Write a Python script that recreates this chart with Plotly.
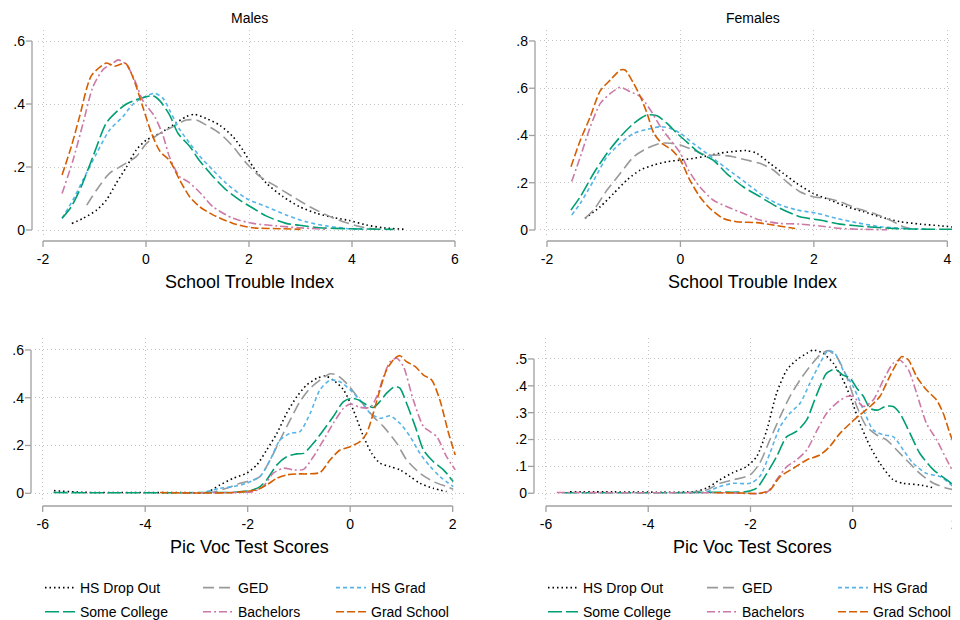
import plotly.graph_objects as go

# ---------------- data ----------------
SERIES = ["HS Drop Out", "GED", "HS Grad", "Some College", "Bachelors", "Grad School"]

# Males, School Trouble Index
males_trouble_x = {
    "HS Drop Out": [-1.44, -1.22, -0.96, -0.77, -0.58, -0.38, -0.19, 0.01, 0.27, 0.52, 0.78, 0.94, 1.17, 1.43, 1.69, 1.88, 2.08, 2.34, 2.66, 2.98, 3.31, 3.63, 3.95, 4.28, 4.60, 5.06],
    "GED": [-1.15, -0.96, -0.71, -0.45, -0.19, 0.01, 0.27, 0.52, 0.78, 0.98, 1.17, 1.43, 1.69, 1.95, 2.21, 2.53, 2.85, 3.18, 3.50, 3.83, 4.15, 4.47],
    "HS Grad": [-1.63, -1.42, -1.22, -0.96, -0.71, -0.45, -0.25, -0.06, 0.17, 0.33, 0.46, 0.65, 0.85, 1.04, 1.30, 1.56, 1.95, 2.34, 2.72, 3.11, 3.50, 3.95, 4.28],
    "Some College": [-1.63, -1.45, -1.26, -1.03, -0.77, -0.54, -0.38, -0.25, -0.06, 0.14, 0.27, 0.46, 0.62, 0.85, 1.04, 1.30, 1.56, 1.82, 2.08, 2.34, 2.72, 2.98, 3.37, 3.95, 4.80],
    "Bachelors": [-1.63, -1.42, -1.22, -1.03, -0.83, -0.64, -0.54, -0.38, -0.22, -0.06, 0.17, 0.33, 0.46, 0.65, 0.82, 1.04, 1.30, 1.69, 2.08, 2.53, 2.98, 3.50],
    "Grad School": [-1.63, -1.45, -1.29, -1.06, -0.77, -0.61, -0.41, -0.35, -0.22, -0.06, 0.10, 0.27, 0.46, 0.65, 0.85, 1.04, 1.30, 1.69, 2.08, 2.66, 3.00],
}
males_trouble_y = {
    "HS Drop Out": [0.021, 0.037, 0.063, 0.095, 0.148, 0.200, 0.254, 0.286, 0.307, 0.333, 0.360, 0.367, 0.354, 0.333, 0.296, 0.254, 0.200, 0.148, 0.106, 0.074, 0.053, 0.040, 0.030, 0.016, 0.007, 0.002],
    "GED": [0.079, 0.127, 0.180, 0.206, 0.233, 0.275, 0.307, 0.328, 0.349, 0.349, 0.333, 0.307, 0.265, 0.212, 0.170, 0.138, 0.106, 0.074, 0.048, 0.026, 0.011, 0.002],
    "HS Grad": [0.037, 0.095, 0.160, 0.243, 0.317, 0.360, 0.400, 0.420, 0.434, 0.418, 0.380, 0.320, 0.275, 0.235, 0.190, 0.148, 0.100, 0.074, 0.048, 0.026, 0.013, 0.004, 0.002],
    "Some College": [0.037, 0.074, 0.137, 0.233, 0.340, 0.380, 0.400, 0.410, 0.420, 0.426, 0.410, 0.365, 0.307, 0.265, 0.220, 0.170, 0.127, 0.095, 0.069, 0.044, 0.021, 0.015, 0.007, 0.004, 0.002],
    "Bachelors": [0.116, 0.220, 0.340, 0.455, 0.510, 0.530, 0.540, 0.525, 0.476, 0.410, 0.360, 0.300, 0.230, 0.170, 0.153, 0.120, 0.074, 0.037, 0.021, 0.013, 0.007, 0.002],
    "Grad School": [0.175, 0.265, 0.360, 0.490, 0.530, 0.520, 0.530, 0.520, 0.470, 0.390, 0.310, 0.250, 0.220, 0.160, 0.105, 0.074, 0.048, 0.021, 0.007, 0.004, 0.002],
}

# Females, School Trouble Index
females_trouble_x = {
    "HS Drop Out": [-1.43, -1.20, -1.00, -0.80, -0.60, -0.40, -0.20, 0.00, 0.19, 0.39, 0.59, 0.79, 0.99, 1.14, 1.34, 1.54, 1.74, 1.99, 2.24, 2.49, 2.74, 2.99, 3.29, 3.59, 3.89, 4.13],
    "GED": [-1.43, -1.30, -1.10, -0.90, -0.70, -0.50, -0.30, -0.15, 0.00, 0.19, 0.39, 0.59, 0.79, 0.99, 1.19, 1.39, 1.59, 1.79, 1.99, 2.19, 2.39, 2.64, 2.89, 3.14, 3.34, 3.44],
    "HS Grad": [-1.63, -1.50, -1.30, -1.10, -0.90, -0.70, -0.50, -0.30, -0.15, 0.00, 0.19, 0.39, 0.59, 0.79, 0.99, 1.19, 1.44, 1.74, 2.04, 2.34, 2.64, 2.99, 3.39, 3.74],
    "Some College": [-1.64, -1.50, -1.30, -1.10, -0.90, -0.70, -0.50, -0.35, -0.20, -0.05, 0.09, 0.29, 0.49, 0.69, 0.94, 1.19, 1.49, 1.79, 2.09, 2.39, 2.79, 3.24, 3.74, 4.18],
    "Bachelors": [-1.63, -1.50, -1.35, -1.20, -1.05, -0.90, -0.75, -0.60, -0.45, -0.30, -0.15, 0.00, 0.12, 0.29, 0.49, 0.69, 0.94, 1.19, 1.49, 1.79, 2.09, 2.39, 2.69, 3.10],
    "Grad School": [-1.64, -1.50, -1.35, -1.20, -1.05, -0.90, -0.83, -0.70, -0.60, -0.50, -0.40, -0.28, -0.13, 0.00, 0.14, 0.29, 0.44, 0.64, 0.84, 1.14, 1.39, 1.72],
}
females_trouble_y = {
    "HS Drop Out": [0.049, 0.099, 0.155, 0.212, 0.254, 0.275, 0.289, 0.296, 0.303, 0.313, 0.325, 0.332, 0.336, 0.325, 0.282, 0.240, 0.198, 0.155, 0.127, 0.099, 0.078, 0.056, 0.035, 0.025, 0.018, 0.011],
    "GED": [0.049, 0.085, 0.169, 0.240, 0.310, 0.346, 0.367, 0.367, 0.360, 0.339, 0.317, 0.317, 0.310, 0.296, 0.282, 0.254, 0.205, 0.162, 0.141, 0.134, 0.120, 0.092, 0.071, 0.042, 0.014, 0.006],
    "HS Grad": [0.063, 0.113, 0.210, 0.310, 0.367, 0.409, 0.426, 0.437, 0.430, 0.409, 0.367, 0.325, 0.282, 0.240, 0.198, 0.155, 0.113, 0.085, 0.071, 0.049, 0.031, 0.014, 0.006, 0.003],
    "Some College": [0.085, 0.141, 0.240, 0.325, 0.395, 0.451, 0.487, 0.483, 0.451, 0.409, 0.374, 0.325, 0.296, 0.240, 0.183, 0.141, 0.092, 0.056, 0.042, 0.025, 0.014, 0.006, 0.003, 0.003],
    "Bachelors": [0.205, 0.310, 0.437, 0.536, 0.578, 0.604, 0.585, 0.564, 0.508, 0.437, 0.381, 0.325, 0.254, 0.183, 0.127, 0.099, 0.071, 0.042, 0.028, 0.025, 0.017, 0.007, 0.003, 0.001],
    "Grad School": [0.268, 0.380, 0.480, 0.590, 0.635, 0.677, 0.677, 0.620, 0.564, 0.494, 0.410, 0.367, 0.339, 0.296, 0.212, 0.141, 0.092, 0.049, 0.035, 0.031, 0.021, 0.006],
}

# Males, Pic Voc Test Scores
males_picvoc_x = {
    "HS Drop Out": [-5.78, -5.21, -4.23, -3.26, -2.80, -2.54, -2.28, -2.02, -1.82, -1.63, -1.43, -1.24, -1.04, -0.85, -0.65, -0.49, -0.33, -0.13, 0.06, 0.26, 0.42, 0.58, 0.78, 0.97, 1.17, 1.36, 1.62, 1.88],
    "GED": [-2.80, -2.67, -2.41, -2.15, -1.89, -1.76, -1.56, -1.37, -1.17, -0.98, -0.78, -0.59, -0.39, -0.26, -0.07, 0.19, 0.45, 0.65, 0.91, 1.10, 1.36, 1.62, 1.88, 2.01],
    "HS Grad": [-2.80, -2.54, -2.28, -2.02, -1.76, -1.56, -1.37, -1.17, -0.98, -0.78, -0.59, -0.39, -0.20, 0.00, 0.19, 0.39, 0.58, 0.78, 0.97, 1.17, 1.36, 1.56, 1.75, 2.01],
    "Some College": [-5.79, -4.50, -3.50, -2.80, -2.28, -1.95, -1.76, -1.63, -1.43, -1.24, -1.04, -0.91, -0.72, -0.52, -0.33, -0.13, 0.03, 0.16, 0.32, 0.45, 0.58, 0.71, 0.87, 0.97, 1.10, 1.27, 1.43, 1.62, 1.82, 2.01],
    "Bachelors": [-3.30, -2.80, -2.28, -1.89, -1.70, -1.50, -1.30, -1.11, -0.91, -0.72, -0.52, -0.33, -0.13, 0.00, 0.19, 0.39, 0.52, 0.65, 0.78, 0.91, 1.04, 1.23, 1.43, 1.56, 1.69, 1.88, 2.05],
    "Grad School": [-3.71, -2.93, -2.28, -1.83, -1.63, -1.43, -1.24, -1.04, -0.85, -0.59, -0.39, -0.20, 0.00, 0.19, 0.32, 0.45, 0.58, 0.71, 0.87, 0.97, 1.10, 1.27, 1.43, 1.59, 1.75, 1.92, 2.05],
}
males_picvoc_y = {
    "HS Drop Out": [0.011, 0.004, 0.003, 0.003, 0.004, 0.035, 0.063, 0.084, 0.119, 0.181, 0.251, 0.335, 0.405, 0.453, 0.481, 0.491, 0.474, 0.433, 0.349, 0.237, 0.167, 0.126, 0.112, 0.098, 0.070, 0.042, 0.021, 0.007],
    "GED": [0.002, 0.005, 0.021, 0.042, 0.056, 0.070, 0.140, 0.223, 0.307, 0.384, 0.440, 0.474, 0.500, 0.495, 0.460, 0.390, 0.321, 0.279, 0.209, 0.140, 0.084, 0.049, 0.028, 0.017],
    "HS Grad": [0.007, 0.021, 0.028, 0.042, 0.070, 0.140, 0.223, 0.251, 0.258, 0.335, 0.433, 0.474, 0.467, 0.433, 0.390, 0.335, 0.314, 0.324, 0.293, 0.237, 0.167, 0.112, 0.070, 0.028],
    "Some College": [0.003, 0.002, 0.002, 0.003, 0.004, 0.011, 0.028, 0.056, 0.119, 0.153, 0.165, 0.167, 0.209, 0.265, 0.321, 0.384, 0.398, 0.391, 0.370, 0.359, 0.384, 0.419, 0.447, 0.440, 0.377, 0.279, 0.181, 0.133, 0.098, 0.049],
    "Bachelors": [0.002, 0.002, 0.003, 0.007, 0.028, 0.084, 0.105, 0.098, 0.100, 0.153, 0.223, 0.293, 0.356, 0.374, 0.360, 0.360, 0.405, 0.488, 0.551, 0.565, 0.530, 0.391, 0.279, 0.258, 0.237, 0.153, 0.098],
    "Grad School": [0.003, 0.001, 0.003, 0.014, 0.035, 0.063, 0.077, 0.081, 0.081, 0.087, 0.140, 0.181, 0.195, 0.216, 0.251, 0.335, 0.433, 0.516, 0.565, 0.576, 0.551, 0.530, 0.495, 0.474, 0.390, 0.251, 0.160],
}

# Females, Pic Voc Test Scores
females_picvoc_x = {
    "HS Drop Out": [-5.53, -4.68, -3.71, -3.12, -2.86, -2.60, -2.34, -2.08, -1.88, -1.68, -1.49, -1.29, -1.10, -0.90, -0.77, -0.58, -0.38, -0.19, -0.05, 0.14, 0.34, 0.53, 0.79, 0.99, 1.31, 1.61],
    "GED": [-3.20, -2.86, -2.60, -2.34, -2.01, -1.82, -1.62, -1.42, -1.23, -1.03, -0.84, -0.64, -0.48, -0.32, -0.12, 0.08, 0.27, 0.47, 0.66, 0.86, 1.05, 1.31, 1.58, 1.84, 2.00],
    "HS Grad": [-2.86, -2.60, -2.34, -2.01, -1.82, -1.62, -1.42, -1.23, -1.03, -0.84, -0.64, -0.48, -0.35, -0.19, 0.01, 0.21, 0.40, 0.60, 0.79, 0.99, 1.18, 1.44, 1.71, 2.00],
    "Some College": [-5.66, -4.50, -3.50, -2.60, -2.08, -1.88, -1.68, -1.49, -1.29, -1.10, -0.90, -0.77, -0.64, -0.51, -0.35, -0.19, -0.05, 0.08, 0.21, 0.34, 0.50, 0.63, 0.79, 0.92, 1.12, 1.31, 1.58, 1.84, 2.00],
    "Bachelors": [-5.79, -4.50, -3.50, -2.50, -1.68, -1.49, -1.29, -1.10, -0.90, -0.71, -0.51, -0.32, -0.12, 0.01, 0.21, 0.40, 0.60, 0.79, 0.92, 1.09, 1.25, 1.44, 1.64, 1.84, 2.03],
    "Grad School": [-2.70, -2.20, -1.82, -1.62, -1.42, -1.16, -0.90, -0.64, -0.45, -0.25, -0.05, 0.14, 0.34, 0.53, 0.69, 0.86, 0.96, 1.09, 1.25, 1.44, 1.64, 1.77, 1.90, 2.07],
}
females_picvoc_y = {
    "HS Drop Out": [0.005, 0.005, 0.004, 0.006, 0.019, 0.050, 0.077, 0.099, 0.136, 0.236, 0.372, 0.459, 0.496, 0.521, 0.533, 0.521, 0.484, 0.422, 0.360, 0.260, 0.174, 0.112, 0.050, 0.037, 0.031, 0.019],
    "GED": [0.002, 0.012, 0.037, 0.050, 0.068, 0.112, 0.199, 0.285, 0.360, 0.422, 0.471, 0.515, 0.531, 0.509, 0.434, 0.323, 0.248, 0.217, 0.199, 0.161, 0.124, 0.074, 0.037, 0.019, 0.012],
    "HS Grad": [0.004, 0.025, 0.037, 0.037, 0.062, 0.149, 0.248, 0.298, 0.335, 0.409, 0.484, 0.531, 0.521, 0.459, 0.397, 0.310, 0.236, 0.217, 0.211, 0.161, 0.112, 0.074, 0.062, 0.019],
    "Some College": [0.002, 0.002, 0.002, 0.004, 0.006, 0.019, 0.074, 0.136, 0.211, 0.230, 0.273, 0.335, 0.397, 0.447, 0.462, 0.440, 0.428, 0.391, 0.360, 0.316, 0.310, 0.323, 0.323, 0.298, 0.223, 0.149, 0.087, 0.050, 0.025],
    "Bachelors": [0.003, 0.002, 0.002, 0.002, 0.004, 0.050, 0.099, 0.124, 0.161, 0.230, 0.298, 0.335, 0.360, 0.360, 0.323, 0.347, 0.422, 0.484, 0.496, 0.459, 0.372, 0.261, 0.199, 0.124, 0.056],
    "Grad School": [0.002, 0.001, 0.000, 0.012, 0.062, 0.093, 0.124, 0.143, 0.174, 0.223, 0.260, 0.292, 0.323, 0.360, 0.422, 0.484, 0.509, 0.496, 0.434, 0.385, 0.347, 0.298, 0.223, 0.143],
}

trouble_xticks_m = [-2, 0, 2, 4, 6]
trouble_xticks_f = [-2, 0, 2, 4]
picvoc_xticks = [-6, -4, -2, 0, 2]
yticks_m_trouble = [0, 0.2, 0.4, 0.6]
yticks_f_trouble = [0, 0.2, 0.4, 0.6, 0.8]
yticks_m_picvoc = [0, 0.2, 0.4, 0.6]
yticks_f_picvoc = [0, 0.1, 0.2, 0.3, 0.4, 0.5]

# ---------------- styles / geometry ----------------
PAGE_W, PAGE_H = 960, 620
OFF = 8  # default page margin around the figure div
W, H = PAGE_W - OFF, PAGE_H - OFF
FONT = "Liberation Sans, Arial, Helvetica, sans-serif"
COLORS = {
    "HS Drop Out": "#000000", "GED": "#999999", "HS Grad": "#56B4E9",
    "Some College": "#009E73", "Bachelors": "#CC79A7", "Grad School": "#D55E00",
}
DASHES = {
    "HS Drop Out": "1.5px,3px", "GED": "11px,5px", "HS Grad": "4px,3px",
    "Some College": "14px,4px", "Bachelors": "8px,3px,2px,3px", "Grad School": "8px,3px",
}
LEGEND_COL = {"HS Drop Out": 0, "Some College": 0, "GED": 1, "Bachelors": 1, "HS Grad": 2, "Grad School": 2}
LEGEND_TEXT_PX = [[80, 238, 371], [583, 742, 873]]
AXIS_GRAY = "#a0a0a0"
GRID = "#c4c4c4"
TICK = 6


def px_x(px):
    return (px - OFF) / W


def px_y(py):
    return 1 - (py - OFF) / H


panels = [
    dict(xs=males_trouble_x, ys=males_trouble_y, title="Males", xtitle="School Trouble Index",
         xdom=(37.85, 465.3), ydom=(30.0, 236.3), xr=[-2.1, 6.2], yr=[-0.02, 0.635],
         xt=trouble_xticks_m, yt=yticks_m_trouble, yline=32, xline=241, cx=249.5, legend_side=0),
    dict(xs=females_trouble_x, ys=females_trouble_y, title="Females", xtitle="School Trouble Index",
         xdom=(540.3, 960.0), ydom=(30.1, 235.9), xr=[-2.1, 4.19], yr=[-0.025, 0.846],
         xt=trouble_xticks_f, yt=yticks_f_trouble, yline=535, xline=241, cx=752.5, legend_side=1),
    dict(xs=males_picvoc_x, ys=males_picvoc_y, title=None, xtitle="Pic Voc Test Scores",
         xdom=(35.0, 465.0), ydom=(338.0, 499.0), xr=[-6.15, 2.24], yr=[-0.024, 0.65],
         xt=picvoc_xticks, yt=yticks_m_picvoc, yline=31, xline=506, cx=249, legend_side=None),
    dict(xs=females_picvoc_x, ys=females_picvoc_y, title=None, xtitle="Pic Voc Test Scores",
         xdom=(538.3, 959.6), ydom=(338.0, 498.9), xr=[-6.15, 2.09], yr=[-0.021, 0.578],
         xt=picvoc_xticks, yt=yticks_f_picvoc, yline=534, xline=506, cx=752, legend_side=None),
]


def ylab(v):
    if v == 0:
        return "0"
    return f"{v:g}".replace("0.", ".")


def xlab(v):
    return f"{v:g}"


fig = go.Figure()
annotations = []
shapes = []
layout = {}
tickfont = dict(size=14, color="#000000", family=FONT)
axline = dict(color=AXIS_GRAY, width=1.3)

for i, p in enumerate(panels):
    k = "" if i == 0 else str(i + 1)
    xa, ya = "x" + k, "y" + k
    for s in SERIES:
        legend_name = None
        show = False
        if p["legend_side"] is not None:
            idx = p["legend_side"] * 3 + LEGEND_COL[s]
            legend_name = "legend" if idx == 0 else f"legend{idx + 1}"
            show = True
        tr = dict(
            x=p["xs"][s], y=p["ys"][s], mode="lines", name=s,
            line=dict(color=COLORS[s], dash=DASHES[s], width=1.6, shape="spline", smoothing=0.7),
            xaxis=xa, yaxis=ya, showlegend=show, hoverinfo="x+y+name",
            legendgroup=f"p{i}_{s}",
        )
        if legend_name:
            tr["legend"] = legend_name
        fig.add_trace(go.Scatter(**tr))

    x0, x1 = p["xdom"]
    ytop, ybot = p["ydom"]
    # data axes: gridlines only
    layout["xaxis" + k] = dict(
        domain=[px_x(x0), px_x(x1)], range=p["xr"], anchor=ya,
        tickvals=p["xt"], showticklabels=False, ticks="",
        showline=False, zeroline=False, showgrid=True, gridcolor=GRID,
        griddash="1px,3px", gridwidth=1, fixedrange=True,
    )
    layout["yaxis" + k] = dict(
        domain=[px_y(ybot), px_y(ytop)], range=p["yr"], anchor=xa,
        tickvals=p["yt"], showticklabels=False, ticks="",
        showline=False, zeroline=False, showgrid=True, gridcolor=GRID,
        griddash="1px,3px", gridwidth=1, fixedrange=True,
    )

    def xpx(v, p=p, x0=x0, x1=x1):
        return x0 + (v - p["xr"][0]) / (p["xr"][1] - p["xr"][0]) * (x1 - x0)

    def ypx(v, p=p, ytop=ytop, ybot=ybot):
        return ybot - (v - p["yr"][0]) / (p["yr"][1] - p["yr"][0]) * (ybot - ytop)

    # detached label axes spanning exactly the tick range
    j = str(i + 5)
    layout["xaxis" + j] = dict(
        domain=[px_x(xpx(p["xt"][0])), px_x(xpx(p["xt"][-1]))], range=[p["xt"][0], p["xt"][-1]],
        anchor="free", position=px_y(p["xline"]), side="bottom",
        tickvals=p["xt"], ticktext=[xlab(v) for v in p["xt"]], ticks="", ticklabelstandoff=8,
        showline=False, showgrid=False, zeroline=False, tickfont=tickfont, fixedrange=True,
    )
    layout["yaxis" + j] = dict(
        domain=[px_y(ypx(p["yt"][0])), px_y(ypx(p["yt"][-1]))], range=[p["yt"][0], p["yt"][-1]],
        anchor="free", position=px_x(p["yline"]), side="left",
        tickvals=p["yt"], ticktext=[ylab(v) for v in p["yt"]], ticks="", ticklabelstandoff=7,
        showline=False, showgrid=False, zeroline=False, tickfont=tickfont, fixedrange=True,
    )
    fig.add_trace(go.Scatter(x=[p["xt"][0]], y=[p["yt"][0]], xaxis="x" + j, yaxis="y" + j,
                             mode="markers", marker=dict(opacity=0, size=1),
                             showlegend=False, hoverinfo="skip"))

    # axis lines and tick marks as paper-referenced shapes
    xl = px_y(p["xline"])
    shapes.append(dict(type="line", xref="paper", yref="paper", layer="above",
                       x0=px_x(xpx(p["xt"][0])), x1=px_x(xpx(p["xt"][-1])), y0=xl, y1=xl, line=axline))
    for t in p["xt"]:
        shapes.append(dict(type="line", xref="paper", yref="paper", layer="above",
                           x0=px_x(xpx(t)), x1=px_x(xpx(t)), y0=xl, y1=px_y(p["xline"] + TICK), line=axline))
    yl = px_x(p["yline"])
    shapes.append(dict(type="line", xref="paper", yref="paper", layer="above",
                       x0=yl, x1=yl, y0=px_y(ypx(p["yt"][0])), y1=px_y(ypx(p["yt"][-1])), line=axline))
    for t in p["yt"]:
        shapes.append(dict(type="line", xref="paper", yref="paper", layer="above",
                           x0=yl, x1=px_x(p["yline"] - TICK), y0=px_y(ypx(t)), y1=px_y(ypx(t)), line=axline))

    if p["title"]:
        annotations.append(dict(text=p["title"], x=px_x(p["cx"]), y=px_y(18), xref="paper", yref="paper",
                                showarrow=False, xanchor="center", yanchor="middle",
                                font=dict(size=14, color="#000000", family=FONT)))
    annotations.append(dict(text=p["xtitle"], x=px_x(p["cx"]),
                            y=px_y(p["xline"] + 41), xref="paper", yref="paper",
                            showarrow=False, xanchor="center", yanchor="middle",
                            font=dict(size=18, color="#000000", family=FONT)))

# legends: one vertical legend per column per side
for side in range(2):
    for c in range(3):
        idx = side * 3 + c
        name = "legend" if idx == 0 else f"legend{idx + 1}"
        layout[name] = dict(
            x=px_x(LEGEND_TEXT_PX[side][c] - 40), y=px_y(572), xanchor="left", yanchor="top",
            orientation="v", bgcolor="rgba(0,0,0,0)", borderwidth=0, tracegroupgap=3,
            font=dict(size=14, color="#000000", family=FONT),
        )

fig.update_layout(
    width=W, height=H, margin=dict(l=0, r=0, t=0, b=0, autoexpand=False),
    paper_bgcolor="#ffffff", plot_bgcolor="rgba(0,0,0,0)", template="none",
    font=dict(family=FONT, size=14, color="#000000"),
    annotations=annotations, shapes=shapes, showlegend=True,
    **layout,
)

fig.write_html("out.html")
